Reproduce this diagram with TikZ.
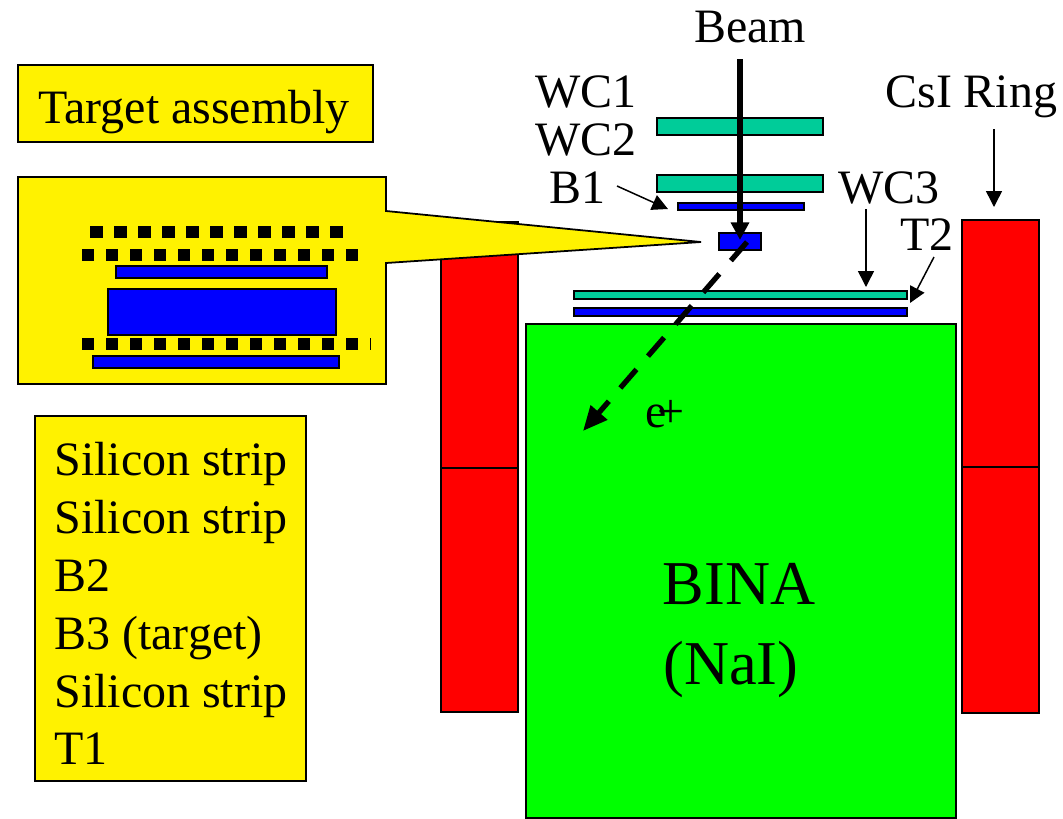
\documentclass[tikz,border=0pt]{standalone}
\usepackage{fontspec}
\setmainfont{Liberation Serif}
\usetikzlibrary{arrows.meta}
\definecolor{wirecol}{HTML}{00CC99}
\begin{document}
\begin{tikzpicture}[
    x=0.02cm,
    y=-0.02cm,
    line join=miter,
    box/.style={
        draw=black,
        line width=1pt
    },
    pointer/.style={
        line width=0.85pt,
        -{Triangle[length=9pt,width=9pt]}
    },
    beam/.style={
        line width=3.4pt,
        -{Triangle[length=10pt,width=10pt]}
    },
    track/.style={
        line width=3pt,
        dash pattern=on 14pt off 10pt,
        -{Triangle[length=14pt,width=12pt]}
    },
    every node/.style={
        font=\fontsize{27.3}{27.3}\selectfont,
        inner sep=0pt
    },
    label/.style={
        anchor=base west
    },
    biglabel/.style={
        anchor=base,
        font=\fontsize{35.5}{35.5}\selectfont
    }
]

\useasboundingbox (0,0) rectangle (1063,819);

% =================================================
% Detectors
% =================================================

% CsI ring
\draw[box,fill=red] (441,222) rectangle (518,468);
\draw[box,fill=red] (441,468) rectangle (518,712);
\draw[box,fill=red] (962,220) rectangle (1039,467);
\draw[box,fill=red] (962,467) rectangle (1039,713);

% BINA
\draw[box,fill=green] (526,324) rectangle (956,818);

% Wire chambers and scintillators
\draw[box,fill=wirecol] (657,118) rectangle (823,135);
\draw[box,fill=wirecol] (657,175) rectangle (823,192);
\draw[box,fill=blue]    (678,203) rectangle (804,210);
\draw[box,fill=blue]    (719,233) rectangle (761,250);
\draw[box,fill=wirecol] (574,291) rectangle (907,299);
\draw[box,fill=blue]    (574,308) rectangle (907,316);

% =================================================
% Target assembly callout
% =================================================

\draw[box,fill=yellow]
    (18,177)--(386,177)--(386,211)--(701,242)--(386,263)--(386,384)--(18,384)--cycle;

\foreach \i in {0,...,10}
    \fill (90+24*\i,226) rectangle (102.5+24*\i,238);
\foreach \i in {0,...,11} {
    \fill (81.5+24*\i,249) rectangle (94+24*\i,261);
    \fill (81.5+24*\i,338) rectangle (94+24*\i,350);
}
\draw[line width=0.4pt] (370,338)--(370,350);

\draw[box,fill=blue] (116,266) rectangle (327,278);
\draw[box,fill=blue] (108,289) rectangle (336,335);
\draw[box,fill=blue] (93,356) rectangle (339,368);

% =================================================
% Legend boxes
% =================================================

\draw[box,fill=yellow] (18,65) rectangle (373,142);
\draw[box,fill=yellow] (35,416) rectangle (306,781);

\node[label] (assembly) at (38,123) {Target assembly};

\foreach \y/\txt in {475/Silicon strip,533/Silicon strip,591/B2,
                     649/B3 (target),707/Silicon strip,764/T1}
    \node[label] (legend\y) at (54,\y) {\txt};

% =================================================
% Labels
% =================================================

\node[anchor=base] (beamlbl) at (750,42) {Beam};
\node[label] (wca) at (535,107) {WC1};
\node[label] (wcb) at (535,155) {WC2};
\node[label] (bone) at (549,203) {B1};
\node[label] (wcc) at (838,203) {WC3};
\node[label] (ttwo) at (900,250) {T2};
\node[label] (csi) at (885,107) {CsI Ring};
\node[label] (eplus) at (645,427) {e\kern-0.2em+};
\node[biglabel] (bina) at (739,604) {BINA};
\node[biglabel] (nai) at (731,684) {(NaI)};

% =================================================
% Arrows
% =================================================

\coordinate (beamstart) at (740,59);
\coordinate (beamend) at (740,240);
\coordinate (trackstart) at (747,242);
\coordinate (trackend) at (583,431);
\coordinate (bonestart) at (617,186);
\coordinate (boneend) at (668,209);
\coordinate (wccstart) at (866,209);
\coordinate (wccend) at (866,287);
\coordinate (ttwostart) at (934,257);
\coordinate (ttwoend) at (910,303);
\coordinate (csistart) at (994,129);
\coordinate (csiend) at (994,207);

\draw[beam] (beamstart)--(beamend);
\draw[track] (trackstart)--(trackend);
\draw[pointer] (bonestart)--(boneend);
\draw[pointer] (wccstart)--(wccend);
\draw[pointer] (ttwostart)--(ttwoend);
\draw[pointer] (csistart)--(csiend);

\end{tikzpicture}
\end{document}
